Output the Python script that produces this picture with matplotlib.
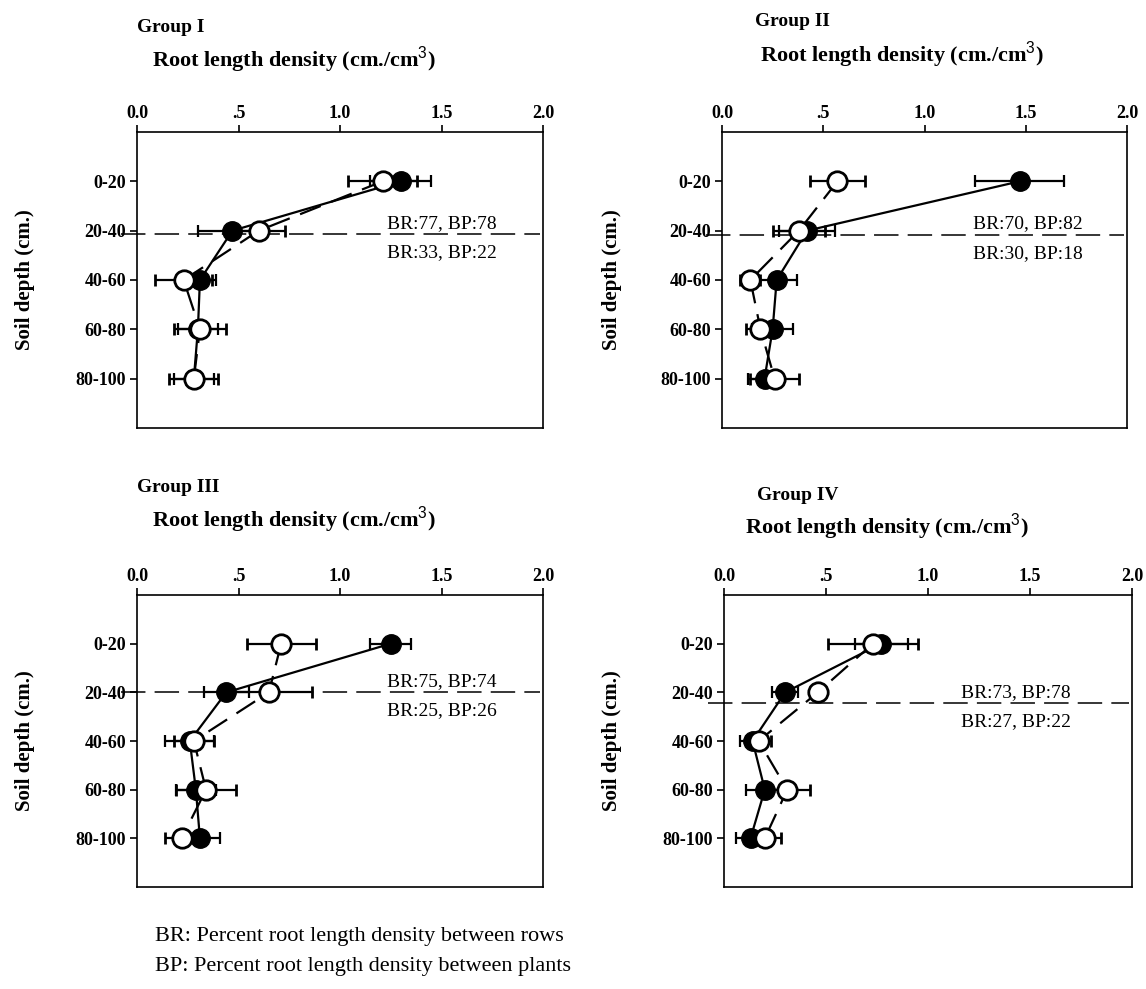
import matplotlib
matplotlib.use("Agg")
import matplotlib.pyplot as plt

plt.rcParams['font.family'] = ['Liberation Serif', 'DejaVu Serif']
plt.rcParams['mathtext.fontset'] = 'custom'
plt.rcParams['mathtext.rm'] = 'Liberation Sans'

# soil depth classes
depths = ['0-20', '20-40', '40-60', '60-80', '80-100']
x_ticks = [0.0, 0.5, 1.0, 1.5, 2.0]
x_ticklabels = ['0.0', '.5', '1.0', '1.5', '2.0']

groups = ['Group I', 'Group II', 'Group III', 'Group IV']

# filled circles
filled_vals = [
    [1.30, 0.47, 0.31, 0.30, 0.28],
    [1.47, 0.42, 0.27, 0.25, 0.21],
    [1.25, 0.44, 0.26, 0.29, 0.31],
    [0.77, 0.30, 0.14, 0.20, 0.13],
]
filled_err = [
    [0.15, 0.17, 0.08, 0.10, 0.10],
    [0.22, 0.14, 0.10, 0.10, 0.08],
    [0.10, 0.11, 0.12, 0.10, 0.10],
    [0.13, 0.065, 0.06, 0.09, 0.07],
]
# open circles
open_vals = [
    [1.21, 0.60, 0.23, 0.31, 0.28],
    [0.57, 0.38, 0.14, 0.19, 0.26],
    [0.71, 0.65, 0.28, 0.34, 0.22],
    [0.73, 0.46, 0.17, 0.31, 0.20],
]
open_err = [
    [0.17, 0.13, 0.14, 0.13, 0.12],
    [0.135, 0.13, 0.05, 0.07, 0.12],
    [0.17, 0.21, 0.10, 0.15, 0.08],
    [0.22, 0.03, 0.06, 0.11, 0.08],
]

# dashed split line and the percent labels
split_depth = [2.07, 2.08, 2.0, 2.22]
upper_labels = ['BR:77, BP:78', 'BR:70, BP:82', 'BR:75, BP:74', 'BR:73, BP:78']
lower_labels = ['BR:33, BP:22', 'BR:30, BP:18', 'BR:25, BP:26', 'BR:27, BP:22']
label_x = [1.50, 1.51, 1.50, 1.43]

W, H = 1146, 989
fig = plt.figure(figsize=(W / 100, H / 100), dpi=100)

# axes boxes in pixels: left, top, right, bottom
boxes = [(137, 132, 543, 428), (722, 132, 1127, 428),
         (137, 595, 543, 887), (724, 595, 1132, 887)]
title_pos = [(137, 28), (755, 22), (137, 487), (757, 495)]
sub_pos = [(152, 60), (760, 55), (152, 520), (745, 527)]
ylab_x = [25, 612, 25, 612]

ypos = [1, 2, 3, 4, 5]

for i in range(4):
    l, t, r, b = boxes[i]
    ax = fig.add_axes([l / W, 1 - b / H, (r - l) / W, (b - t) / H])

    # filled series, solid line
    ax.errorbar(filled_vals[i], ypos, xerr=filled_err[i], fmt='-o', color='black',
                mfc='black', mec='black', ms=14, lw=1.6, elinewidth=1.6,
                capsize=4, capthick=1.6, zorder=3)
    # open series, dashed line
    ax.errorbar(open_vals[i], ypos, xerr=open_err[i], fmt='o', color='black',
                mfc='white', mec='black', mew=2, ms=14, elinewidth=1.6,
                capsize=4, capthick=1.6, zorder=4)
    ax.plot(open_vals[i], ypos, color='black', lw=1.6,
            linestyle=(0, (10, 5)), zorder=3.5)

    ax.plot([-0.08, 1.985], [split_depth[i], split_depth[i]], color='black', lw=1.1,
            linestyle=(0, (16, 6)), clip_on=False, zorder=2)
    ax.text(label_x[i], split_depth[i] - 0.22, upper_labels[i], ha='center', va='center',
            fontsize=14)
    ax.text(label_x[i], split_depth[i] + 0.38, lower_labels[i], ha='center', va='center',
            fontsize=14)

    ax.set_xlim(0, 2.0)
    ax.set_ylim(6, 0)
    ax.set_xticks(x_ticks)
    ax.set_xticklabels(x_ticklabels, fontsize=13, fontweight='bold')
    ax.set_yticks(ypos)
    ax.set_yticklabels(depths, fontsize=13, fontweight='bold')
    ax.xaxis.tick_top()
    ax.tick_params(axis='x', direction='out', length=5, width=1.2, pad=2.5)
    ax.tick_params(axis='y', direction='out', length=5, width=1.2, pad=3)
    for s in ax.spines.values():
        s.set_linewidth(1.2)

    fig.text(title_pos[i][0] / W, 1 - title_pos[i][1] / H, groups[i],
             fontsize=14, fontweight='bold', va='center', ha='left')
    fig.text(sub_pos[i][0] / W, 1 - sub_pos[i][1] / H,
             r'Root length density (cm./cm$^{3}$)',
             fontsize=16, fontweight='bold', va='center', ha='left')
    fig.text(ylab_x[i] / W, 1 - ((t + b) / 2) / H, 'Soil depth (cm.)',
             fontsize=15, fontweight='bold', rotation=90, va='center', ha='center')

fig.text(155 / W, 1 - 937 / H, 'BR: Percent root length density between rows',
         fontsize=16, va='center', ha='left')
fig.text(155 / W, 1 - 967 / H, 'BP: Percent root length density between plants',
         fontsize=16, va='center', ha='left')

fig.savefig('out.png', dpi=100)
